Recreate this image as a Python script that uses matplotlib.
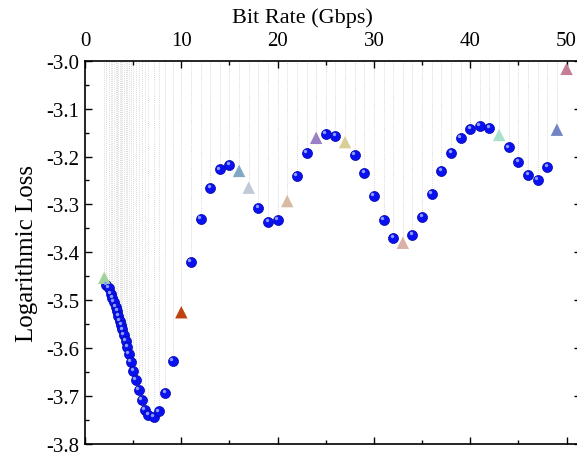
import matplotlib
matplotlib.use("Agg")
import matplotlib.pyplot as plt
from matplotlib.ticker import MultipleLocator

plt.rcParams['font.family'] = ['Liberation Serif', 'DejaVu Serif']
plt.rcParams['axes.unicode_minus'] = False

# blue points (bit rate, log loss)
rate = [2.23, 2.47, 2.65, 2.82, 2.99, 3.17, 3.34, 3.45, 3.61, 3.76, 3.89, 4.03,
        4.21, 4.38, 4.55, 4.76, 5.01, 5.28, 5.56, 5.87, 6.21, 6.59, 7.14, 7.66,
        8.33, 9.09,
        11, 12, 13, 14, 15, 18, 19, 20, 22, 23, 25, 26, 28, 29, 30, 31, 32,
        34, 35, 36, 37, 38, 39, 40, 41, 42, 44, 45, 46, 47, 48]
loss = [-3.468, -3.475, -3.486, -3.495, -3.503, -3.514, -3.522, -3.532, -3.543,
        -3.551, -3.561, -3.572, -3.584, -3.597, -3.613, -3.628, -3.647, -3.667,
        -3.688, -3.709, -3.728, -3.740, -3.744, -3.732, -3.694, -3.626,
        -3.420, -3.331, -3.265, -3.227, -3.217, -3.308, -3.336, -3.332, -3.240,
        -3.193, -3.152, -3.157, -3.197, -3.235, -3.282, -3.332, -3.369,
        -3.364, -3.326, -3.279, -3.231, -3.192, -3.162, -3.143, -3.136, -3.141,
        -3.181, -3.212, -3.238, -3.249, -3.222]

# highlighted triangles
tri_rate = [2, 10, 16, 17, 21, 24, 27, 33, 43, 49, 50]
tri_loss = [-3.453, -3.525, -3.230, -3.265, -3.293, -3.161, -3.170, -3.380,
            -3.155, -3.144, -3.017]
tri_color = ['#9fd39c', '#c0420e', '#7fa7c6', '#bfcad6', '#d8b9a3', '#9b80c6',
             '#d8cf97', '#d8b1a9', '#a9e2cc', '#7384c6', '#c47f96']

fig = plt.figure(figsize=(5.77, 4.56), dpi=100)
ax = fig.add_axes([0.1473, 0.0241, 0.8596, 0.8406])

# drop lines up to the top axis
for x, y in list(zip(rate, loss)) + list(zip(tri_rate, tri_loss)):
    ax.plot([x, x], [y, -3.0], color='#cccccc', lw=0.6, ls=(0, (1, 1.5)), zorder=1)

# blue "spheres"
ax.scatter(rate, loss, s=52, color='#0a10f0', edgecolors='#0008a8', linewidths=0.5, zorder=3)
ax.scatter([r - 0.15 for r in rate], [l + 0.004 for l in loss], s=6,
           color='#8c9cff', linewidths=0, zorder=4)

ax.scatter(tri_rate, tri_loss, s=80, marker='^', c=tri_color, linewidths=0, zorder=3)

ax.set_xlim(0, 51.5)
ax.set_ylim(-3.8, -3.0)
ax.xaxis.set_major_locator(MultipleLocator(10))
ax.xaxis.set_minor_locator(MultipleLocator(5))
ax.yaxis.set_major_locator(MultipleLocator(0.1))
ax.yaxis.set_minor_locator(MultipleLocator(0.05))
ax.yaxis.set_major_formatter(plt.FormatStrFormatter('%.1f'))

ax.tick_params(which='both', direction='in', top=True, bottom=True, left=True, right=True,
               labeltop=True, labelbottom=False, labelsize=15, width=1)
ax.tick_params(which='major', length=5)
ax.tick_params(which='minor', length=3)
ax.tick_params(axis='x', which='major', pad=8)
ax.tick_params(axis='y', which='major', pad=4)

ax.xaxis.set_label_position('top')
ax.set_xlabel('Bit Rate (Gbps)', fontsize=16, labelpad=4)
ax.xaxis.set_label_coords(0.4375, 1.10)
ax.set_ylabel('Logarithmic Loss', fontsize=18, labelpad=6)

for s in ax.spines.values():
    s.set_linewidth(1.2)

fig.savefig("out.png", dpi=100)
